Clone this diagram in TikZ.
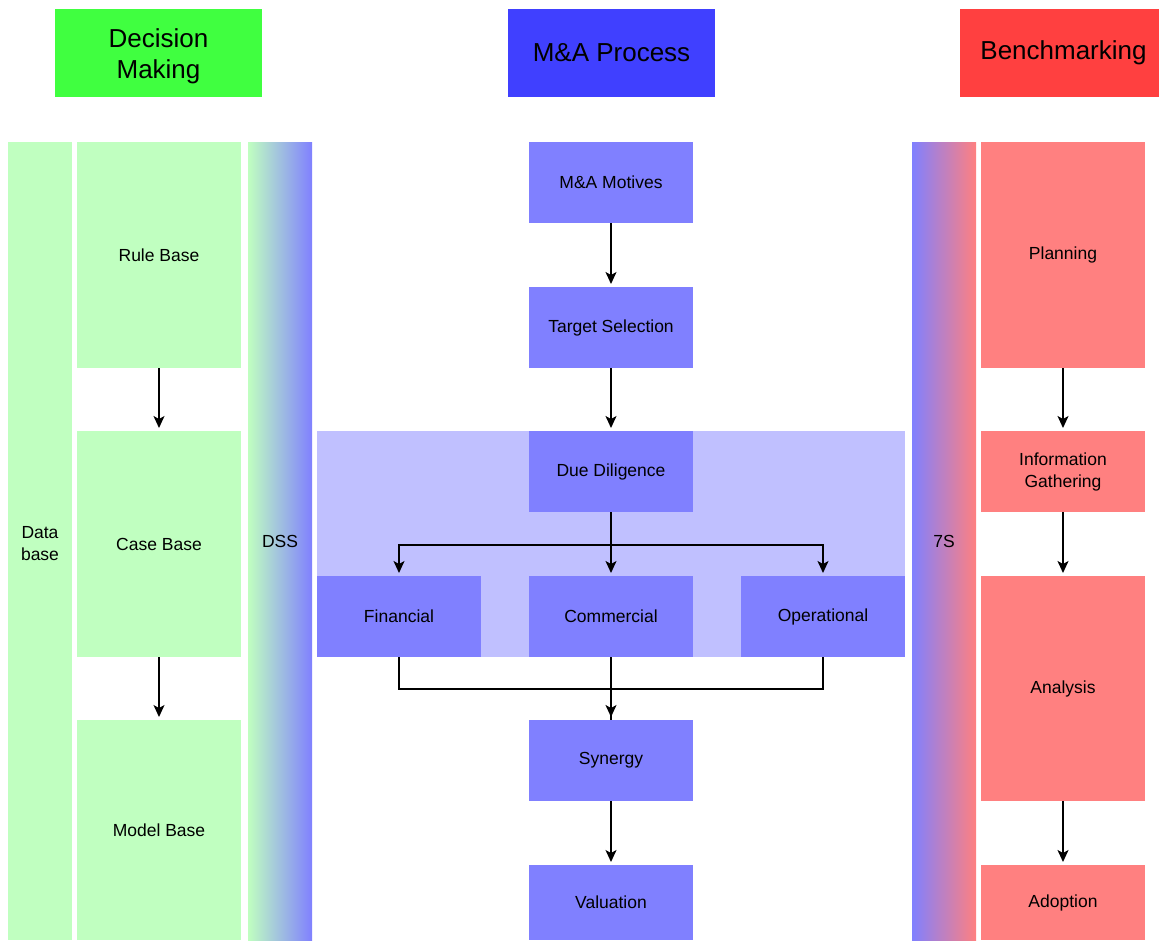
\documentclass[tikz,border=0pt]{standalone}
\usepackage{fontspec}
\setmainfont{Liberation Sans}
\usetikzlibrary{arrows.meta,shadings}
\definecolor{hgreen}{HTML}{40FF40}
\definecolor{hblue}{HTML}{4040FF}
\definecolor{hred}{HTML}{FF4040}
\definecolor{lgreen}{HTML}{C0FFC0}
\definecolor{mblue}{HTML}{8080FF}
\definecolor{lblue}{HTML}{C0C0FF}
\definecolor{lred}{HTML}{FF8080}
\newcommand{\lowerby}[2]{\raisebox{-#1}[\height][\depth]{#2}}
\tikzset{
  base/.style={rectangle, inner sep=0pt, outer sep=0pt, draw=none, align=center, text=black,
    font=\fontsize{17.5}{22}\selectfont},
  header/.style={base, minimum width=207pt, minimum height=88pt, font=\fontsize{26}{31}\selectfont, text=black},
  gbox/.style={base, fill=lgreen, minimum width=164pt},
  bbox/.style={base, fill=mblue, minimum width=164pt, minimum height=81pt},
  rbox/.style={base, fill=lred, minimum width=164pt},
  bar/.style={base, minimum width=64pt, minimum height=798pt},
  arr/.style={-{Stealth[length=12pt,width=11pt,inset=3pt]}, line width=1.5pt, black, shorten >=3pt},
  ln/.style={line width=1.5pt, black}
}
\begin{document}
\begin{tikzpicture}[x=1pt,y=-1pt]
\useasboundingbox (0,0) rectangle (1159,940);
% headers
\node[header, fill=hgreen] (hdm) at (158.5,53) {\lowerby{3pt}{\parbox{200pt}{\centering Decision\\Making}}};
\node[header, fill=hblue] (hma) at (611.5,53) {M\&A Process};
\node[header, fill=hred] (hbm) at (1063.5,53) {Benchmarking};
% left
\node[bar, fill=lgreen] (db) at (40,541) {\lowerby{3pt}{\parbox{60pt}{\centering Data\\base}}};
\node[gbox, minimum height=226pt] (rule) at (159,255) {Rule Base};
\node[gbox, minimum height=226pt] (case) at (159,544) {Case Base};
\node[gbox, minimum height=220pt] (model) at (159,830) {Model Base};
\node[bar, left color=lgreen, right color=mblue] (dss) at (280,541) {DSS};
% middle
\node[base, fill=lblue, minimum width=588pt, minimum height=226pt] (panel) at (611,544) {};
\node[bbox] (mot) at (611,182.5) {M\&A Motives};
\node[bbox] (tgt) at (611,327.5) {Target Selection};
\node[bbox] (dd) at (611,471.5) {Due Diligence};
\node[bbox] (fin) at (399,616.5) {Financial};
\node[bbox] (com) at (611,616.5) {Commercial};
\node[bbox] (op) at (823,616.5) {Operational};
\node[bbox] (syn) at (611,760.5) {Synergy};
\node[bbox, minimum height=75pt] (val) at (611,902.5) {Valuation};
% right
\node[bar, left color=mblue, right color=lred] (s7) at (944,541) {7S};
\node[rbox, minimum height=226pt] (plan) at (1063,255) {Planning};
\node[rbox, minimum height=81pt] (info) at (1063,471.5) {Information\\Gathering};
\node[rbox, minimum height=225pt] (ana) at (1063,688.5) {Analysis};
\node[rbox, minimum height=75pt] (adop) at (1063,902.5) {Adoption};
% connectors
\draw[arr] (rule) -- (case);
\draw[arr] (case) -- (model);
\draw[arr] (mot) -- (tgt);
\draw[arr] (tgt) -- (dd);
\draw[arr] (dd) -- (com);
\draw[arr] (dd.south) -- ++(0,33) -| (fin.north);
\draw[arr] (dd.south) -- ++(0,33) -| (op.north);
\draw[ln] (fin.south) -- ++(0,32) -| (syn.north);
\draw[ln] (op.south) -- ++(0,32) -| (syn.north);
\draw[arr] (com) -- (syn);
\draw[arr] (syn) -- (val);
\draw[arr] (plan) -- (info);
\draw[arr] (info) -- (ana);
\draw[arr] (ana) -- (adop);
\end{tikzpicture}
\end{document}
